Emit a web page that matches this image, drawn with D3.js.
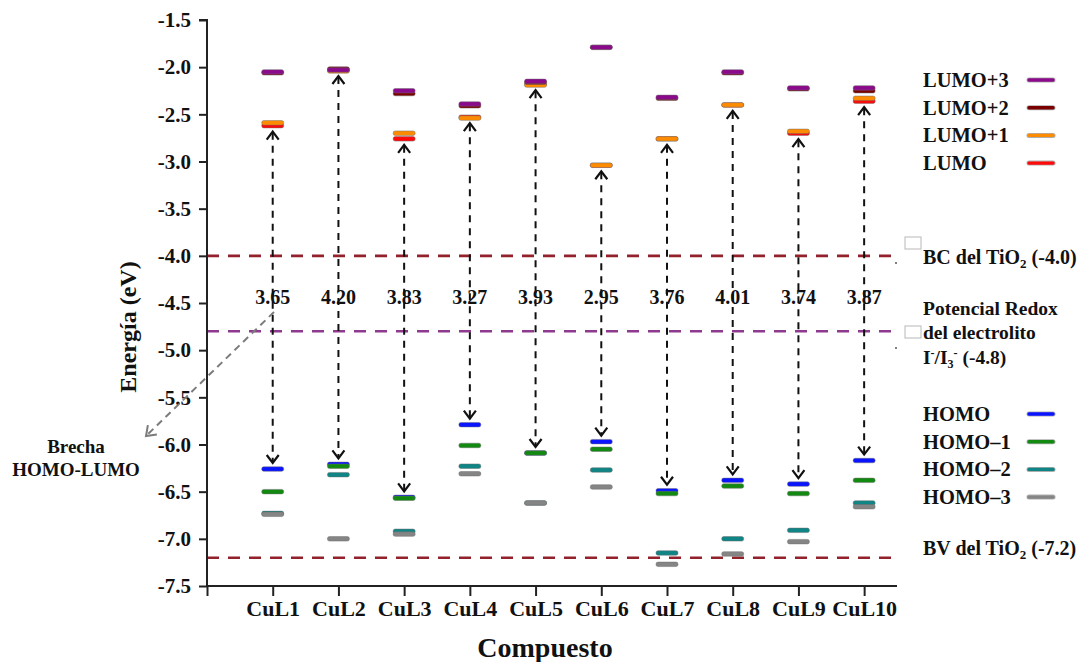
<!DOCTYPE html>
<html>
<head>
<meta charset="utf-8">
<script src="https://cdn.jsdelivr.net/npm/d3@7"></script>
<style>
  html, body { margin: 0; padding: 0; background: #fff; }
  svg text { font-family: "Liberation Serif", "Times New Roman", serif; font-weight: bold; fill: #111; }
</style>
</head>
<body>
<svg id="chart" width="1081" height="662"></svg>
<script>
// ---------- data ----------
const categories = ["CuL1","CuL2","CuL3","CuL4","CuL5","CuL6","CuL7","CuL8","CuL9","CuL10"];
const lumo  = [-2.62, -2.03, -2.76, -2.53, -2.18, -3.04, -2.76, -2.40, -2.70, -2.36];
const lumo1 = [-2.59, -2.04, -2.70, -2.54, -2.19, -3.04, -2.76, -2.40, -2.68, -2.33];
const lumo2 = [-2.06, -2.02, -2.28, -2.41, -2.16, -1.79, -2.33, -2.06, -2.23, -2.25];
const lumo3 = [-2.05, -2.03, -2.25, -2.39, -2.15, -1.79, -2.32, -2.05, -2.22, -2.22];
const homo  = [-6.26, -6.21, -6.56, -5.79, -6.09, -5.97, -6.49, -6.38, -6.42, -6.17];
const homo1 = [-6.50, -6.23, -6.57, -6.01, -6.09, -6.05, -6.52, -6.44, -6.52, -6.38];
const homo2 = [-6.73, -6.32, -6.92, -6.23, -6.62, -6.27, -7.15, -7.00, -6.91, -6.62];
const homo3 = [-6.74, -7.00, -6.95, -6.31, -6.62, -6.45, -7.27, -7.16, -7.03, -6.66];
const gapLabels = ["3.65","4.20","3.83","3.27","3.93","2.95","3.76","4.01","3.74","3.87"];
const yTicks = [-1.5,-2.0,-2.5,-3.0,-3.5,-4.0,-4.5,-5.0,-5.5,-6.0,-6.5,-7.0,-7.5];
const refLevels = [-4.0, -4.8, -7.2];
const lumoNames = ["LUMO","LUMO+1","LUMO+2","LUMO+3"];
const homoNames = ["HOMO","HOMO\u20131","HOMO\u20132","HOMO\u20133"];

// ---------- setup ----------
const svg = d3.select("#chart");
const x = d3.scaleLinear().domain([0, 10.5]).range([207, 897]);
const y = d3.scaleLinear().domain([-7.5, -1.5]).range([586, 20]);
const xi = i => x(i + 1);

const levelColors = {
  "LUMO": "#ff0a0a", "LUMO+1": "#ff8c00", "LUMO+2": "#7a0000", "LUMO+3": "#8b0a8b",
  "HOMO": "#0a14ff", "HOMO\u20131": "#128a12", "HOMO\u20132": "#0f8585", "HOMO\u20133": "#858585"
};
const refColors = ["#92212b", "#8e3a8e", "#92212b"];

// ---------- reference dashed lines ----------
svg.selectAll("line.ref").data(refLevels).join("line")
  .attr("class","ref")
  .attr("x1", x(0)).attr("x2", x(10.5))
  .attr("y1", d => y(d)).attr("y2", d => y(d))
  .attr("stroke", (d,i) => refColors[i]).attr("stroke-width", 2.6)
  .attr("stroke-dasharray", "12,9");

// ---------- gap arrows ----------
const arrG = svg.append("g");
categories.forEach((c, i) => {
  const cx = xi(i);
  const top = y(lumo[i]) + 6;
  const bot = y(homo[i]) - 6;
  arrG.append("line").attr("x1", cx).attr("x2", cx).attr("y1", top + 1).attr("y2", bot - 1)
    .attr("stroke", "#111").attr("stroke-width", 2).attr("stroke-dasharray", "7,6");
  arrG.append("polyline").attr("points", `${cx-6},${top+8} ${cx},${top} ${cx+6},${top+8}`)
    .attr("fill","none").attr("stroke","#111").attr("stroke-width", 2.2);
  arrG.append("polyline").attr("points", `${cx-6},${bot-8} ${cx},${bot} ${cx+6},${bot-8}`)
    .attr("fill","none").attr("stroke","#111").attr("stroke-width", 2.2);
});

// gap labels
svg.selectAll("text.gap").data(gapLabels).join("text")
  .attr("class","gap")
  .attr("x", (d,i) => xi(i)).attr("y", y(-4.5) + 1)
  .attr("text-anchor","middle").attr("font-size", 20)
  .text(d => d);

// ---------- energy levels ----------
const seriesOrder = [
  ["LUMO", lumo], ["LUMO+1", lumo1], ["LUMO+2", lumo2], ["LUMO+3", lumo3],
  ["HOMO", homo], ["HOMO\u20131", homo1], ["HOMO\u20132", homo2], ["HOMO\u20133", homo3]
];
const levG = svg.append("g");
seriesOrder.forEach(([name, vals]) => {
  levG.selectAll(null).data(vals).join("rect")
    .attr("x", (d,i) => xi(i) - 11).attr("width", 22)
    .attr("y", d => y(d) - 2.25).attr("height", 4.5)
    .attr("rx", 2)
    .attr("fill", levelColors[name])
    .attr("stroke", "rgba(110,110,110,0.6)").attr("stroke-width", 0.8);
});

// ---------- axes ----------
const yAxis = d3.axisLeft(y).tickValues(yTicks).tickSize(8).tickPadding(8)
  .tickFormat(d3.format(".1f"));
const gy = svg.append("g").attr("transform", `translate(${x(0)},0)`).call(yAxis);
gy.select(".domain").attr("stroke","#222").attr("stroke-width",2).attr("d", `M-8,${y(-1.5)}H0V${y(-7.5)}`);
gy.selectAll(".tick line").attr("stroke","#222").attr("stroke-width",2);
gy.selectAll(".tick text").attr("font-size", 21).attr("font-family","Liberation Serif").attr("font-weight","bold").attr("fill","#111")
  .text(d => d3.format(".1f")(d).replace("\u2212","-"));

const xAxis = d3.axisBottom(x).tickValues(d3.range(0, 11)).tickSize(10).tickPadding(4)
  .tickFormat(d => d === 0 ? "" : categories[d - 1]);
const gx = svg.append("g").attr("transform", `translate(0,${y(-7.5)})`).call(xAxis);
gx.select(".domain").attr("stroke","#222").attr("stroke-width",2).attr("d", `M${x(0)},0H${x(10.5)}`);
gx.selectAll(".tick line").attr("stroke","#222").attr("stroke-width",2);
gx.selectAll(".tick text").attr("font-size", 22).attr("font-family","Liberation Serif").attr("font-weight","bold").attr("fill","#111");

// axis titles
svg.append("text").attr("transform", "translate(136,327) rotate(-90)")
  .attr("text-anchor","middle").attr("font-size", 24).text("Energía (eV)");
svg.append("text").attr("x", 545).attr("y", 657)
  .attr("text-anchor","middle").attr("font-size", 28).text("Compuesto");

// ---------- Brecha annotation ----------
const a0 = [274, 312], a1 = [146, 436];
svg.append("line").attr("x1", a0[0]).attr("y1", a0[1]).attr("x2", a1[0]).attr("y2", a1[1])
  .attr("stroke", "#7c7c7c").attr("stroke-width", 2).attr("stroke-dasharray", "7,5");
{
  const ang = Math.atan2(a1[1]-a0[1], a1[0]-a0[0]);
  const L = 11, w = Math.PI/5;
  const p1 = [a1[0] - L*Math.cos(ang - w), a1[1] - L*Math.sin(ang - w)];
  const p2 = [a1[0] - L*Math.cos(ang + w), a1[1] - L*Math.sin(ang + w)];
  svg.append("polyline").attr("points", `${p1} ${a1} ${p2}`)
    .attr("fill","none").attr("stroke","#7c7c7c").attr("stroke-width",2);
}
svg.append("text").attr("x", 76).attr("y", 453).attr("text-anchor","middle").attr("font-size", 19).text("Brecha");
svg.append("text").attr("x", 76).attr("y", 476).attr("text-anchor","middle").attr("font-size", 19).text("HOMO-LUMO");

// ---------- legends ----------
const lumoLegend = lumoNames.slice().reverse();
const lg1 = svg.append("g");
lumoLegend.forEach((n, k) => {
  const yy = 80 + k * 27.7;
  lg1.append("text").attr("x", 923).attr("y", yy + 7).attr("font-size", 20.5).text(n);
  lg1.append("line").attr("x1", 1029).attr("x2", 1053).attr("y1", yy).attr("y2", yy)
    .attr("stroke", "rgba(120,120,120,0.6)").attr("stroke-width", 5).attr("stroke-linecap","round");
  lg1.append("line").attr("x1", 1029).attr("x2", 1053).attr("y1", yy).attr("y2", yy)
    .attr("stroke", levelColors[n]).attr("stroke-width", 3.4).attr("stroke-linecap","round");
});
const lg2 = svg.append("g");
homoNames.forEach((n, k) => {
  const yy = 414 + k * 27.7;
  lg2.append("text").attr("x", 923).attr("y", yy + 7).attr("font-size", 20.5).text(n);
  lg2.append("line").attr("x1", 1029).attr("x2", 1053).attr("y1", yy).attr("y2", yy)
    .attr("stroke", "rgba(120,120,120,0.6)").attr("stroke-width", 5).attr("stroke-linecap","round");
  lg2.append("line").attr("x1", 1029).attr("x2", 1053).attr("y1", yy).attr("y2", yy)
    .attr("stroke", levelColors[n]).attr("stroke-width", 3.4).attr("stroke-linecap","round");
});

// ---------- reference level labels ----------
function tioLabel(xp, yp, pre, post) {
  const t = svg.append("text").attr("x", xp).attr("y", yp).attr("font-size", 20);
  t.append("tspan").text(pre);
  t.append("tspan").attr("font-size", 13).attr("dy", 4).text("2");
  t.append("tspan").attr("dy", -4).text(post);
}
tioLabel(923, 264, "BC del TiO", " (-4.0)");
tioLabel(923, 555, "BV del TiO", " (-7.2)");
svg.append("text").attr("x", 923).attr("y", 315).attr("font-size", 19.5).text("Potencial Redox");
svg.append("text").attr("x", 923).attr("y", 339).attr("font-size", 19.5).text("del electrolito");
{
  const t = svg.append("text").attr("x", 923).attr("y", 364).attr("font-size", 19.5);
  t.append("tspan").text("I");
  t.append("tspan").attr("font-size", 12).attr("dy", -7).text("-");
  t.append("tspan").attr("dy", 7).text("/I");
  t.append("tspan").attr("font-size", 12).attr("dy", 4).text("3");
  t.append("tspan").attr("font-size", 12).attr("dy", -11).text("-");
  t.append("tspan").attr("dy", 7).text("  (-4.8)");
}
// small placeholder boxes and dots
[[905, 237], [905, 326]].forEach(([bx, by]) => {
  svg.append("rect").attr("x", bx).attr("y", by).attr("width", 16).attr("height", 12)
    .attr("fill", "#fff").attr("stroke", "#b8b8b8").attr("stroke-width", 1);
});
[[896, 263], [896, 348]].forEach(([dx, dy]) => {
  svg.append("circle").attr("cx", dx).attr("cy", dy).attr("r", 1).attr("fill", "#555");
});
</script>
</body>
</html>
